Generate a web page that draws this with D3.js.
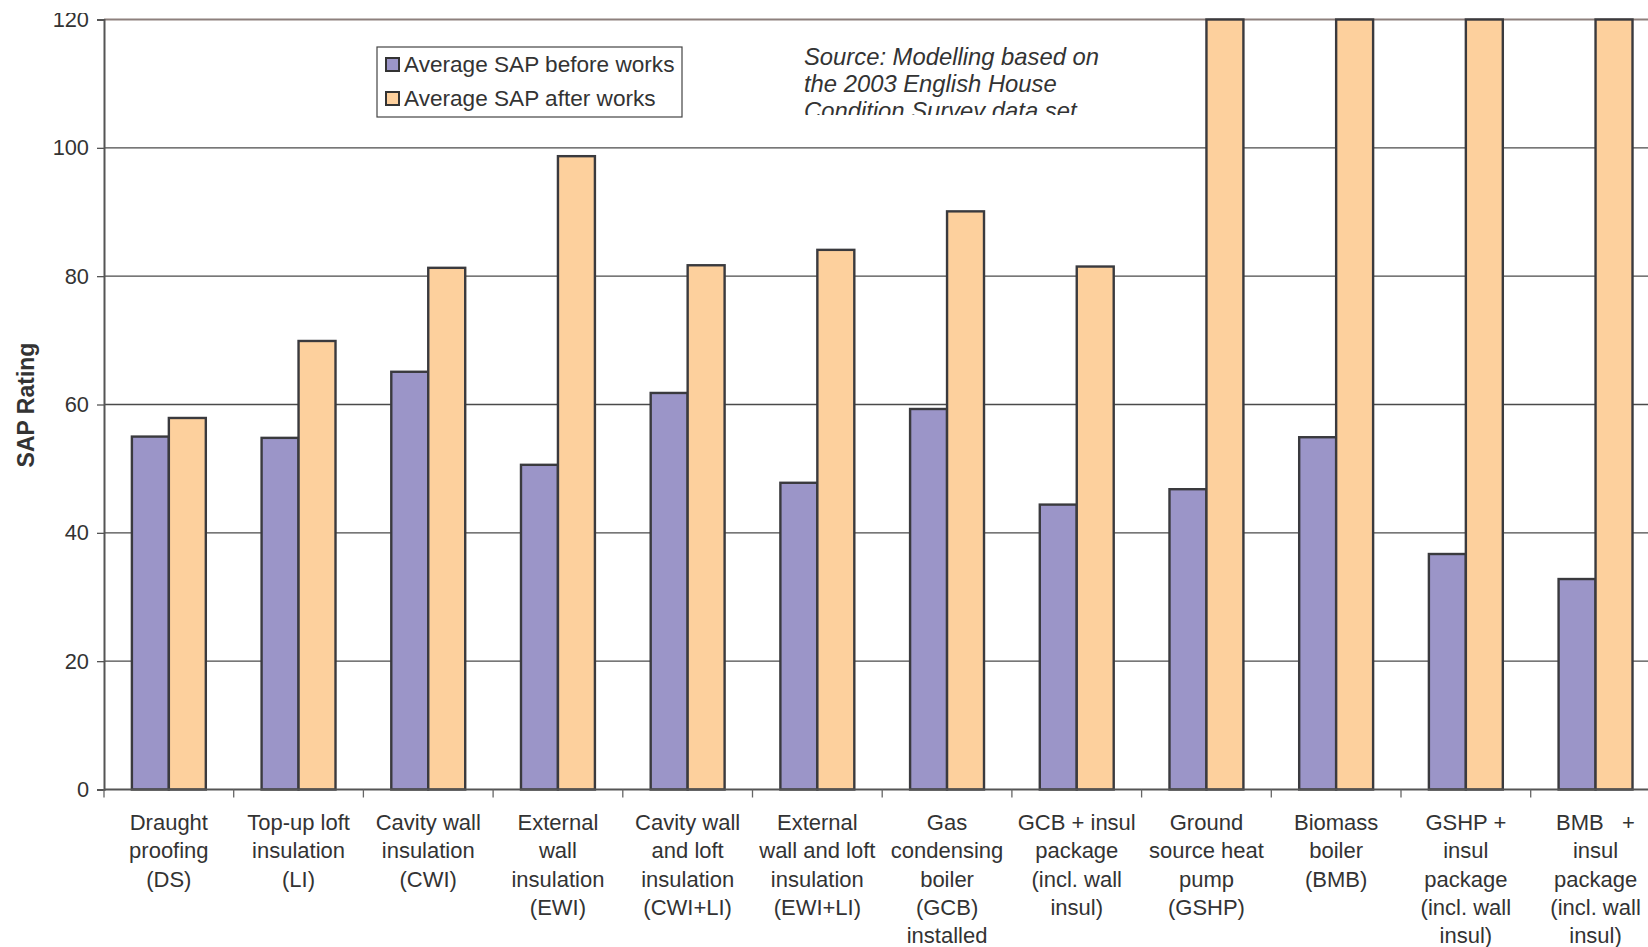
<!DOCTYPE html>
<html>
<head>
<meta charset="utf-8">
<script src="https://cdn.jsdelivr.net/npm/d3@7"></script>
<style>
  html, body { margin: 0; padding: 0; background: #fff; overflow: hidden; }
  svg { display: block; font-family: "Liberation Sans", Arial, sans-serif; }
</style>
</head>
<body>
<svg id="chart"></svg>
<script>
// category labels, one entry per line
const categories = [
    ["Draught", "proofing", "(DS)"],
    ["Top-up loft", "insulation", "(LI)"],
    ["Cavity wall", "insulation", "(CWI)"],
    ["External", "wall", "insulation", "(EWI)"],
    ["Cavity wall", "and loft", "insulation", "(CWI+LI)"],
    ["External", "wall and loft", "insulation", "(EWI+LI)"],
    ["Gas", "condensing", "boiler", "(GCB)", "installed"],
    ["GCB + insul", "package", "(incl. wall", "insul)"],
    ["Ground", "source heat", "pump", "(GSHP)"],
    ["Biomass", "boiler", "(BMB)"],
    ["GSHP +", "insul", "package", "(incl. wall", "insul)"],
    ["BMB   +", "insul", "package", "(incl. wall", "insul)"]
];

const seriesNames = ["Average SAP before works", "Average SAP after works"];
const sapBefore = [55.0, 54.8, 65.1, 50.6, 61.8, 47.8, 59.3, 44.4, 46.8, 54.9, 36.7, 32.8];
// last four run off the top of the axis in the original, read as 120
const sapAfter = [57.9, 69.9, 81.3, 98.7, 81.7, 84.1, 90.1, 81.5, 120, 120, 120, 120];
const yTicks = [0, 20, 40, 60, 80, 100, 120];

const W = 1648, H = 947;
const margin = { top: 19.5, left: 104, bottom: H - 789.5 };
const step = 129.7;

const svg = d3.select("#chart").attr("width", W).attr("height", H);

const ids = categories.map((d, i) => i);
const x0 = d3.scaleBand()
    .domain(ids)
    .range([margin.left, margin.left + step * ids.length])
    .paddingInner(0.43)
    .paddingOuter(0.215);

const x1 = d3.scaleBand()
    .domain([0, 1])
    .range([0, x0.bandwidth()]);

const y = d3.scaleLinear()
    .domain([0, 120])
    .range([789.5, margin.top])
    .clamp(true);

const colors = ["#9b95c8", "#fdd09d"];

// gridlines
svg.append("g")
    .selectAll("line")
    .data(yTicks.filter(t => t > 0 && t < 120))
    .join("line")
    .attr("x1", margin.left).attr("x2", W)
    .attr("y1", d => y(d)).attr("y2", d => y(d))
    .attr("stroke", "#4a4a4a")
    .attr("stroke-width", 1.3);

svg.append("line")
    .attr("x1", margin.left).attr("x2", W)
    .attr("y1", y(120)).attr("y2", y(120))
    .attr("stroke", "#8d807d")
    .attr("stroke-width", 2.2);

// bars
const rows = ids.map(i => [sapBefore[i], sapAfter[i]]);
svg.append("g")
    .selectAll("g")
    .data(rows)
    .join("g")
    .attr("transform", (d, i) => `translate(${x0(i)},0)`)
    .selectAll("rect")
    .data(d => d.map((v, k) => ({ v, k })))
    .join("rect")
    .attr("x", d => x1(d.k))
    .attr("width", x1.bandwidth())
    .attr("y", d => y(d.v))
    .attr("height", d => y(0) - y(d.v))
    .attr("fill", d => colors[d.k])
    .attr("stroke", "#3a3a3e")
    .attr("stroke-width", 2.4);

// y axis (top label is cut in the original)
svg.append("clipPath").attr("id", "yClip")
    .append("rect").attr("x", 0).attr("y", 13).attr("width", margin.left + 5).attr("height", H);
const yAxis = svg.append("g")
    .attr("clip-path", "url(#yClip)")
    .append("g")
    .attr("transform", `translate(${margin.left},0)`)
    .call(d3.axisLeft(y).tickValues(yTicks).tickSize(7).tickPadding(8));
yAxis.select(".domain").attr("stroke", "#555").attr("stroke-width", 2);
yAxis.selectAll(".tick line").attr("stroke", "#555").attr("stroke-width", 1.3);
yAxis.selectAll(".tick text")
    .attr("fill", "#333")
    .style("font-size", "21.8px");

// x axis line and ticks between categories
svg.append("line")
    .attr("x1", margin.left).attr("x2", W)
    .attr("y1", y(0)).attr("y2", y(0))
    .attr("stroke", "#555").attr("stroke-width", 2);

svg.append("g")
    .selectAll("line")
    .data(ids)
    .join("line")
    .attr("x1", d => x0(d) - x0.step() * x0.paddingInner() / 2)
    .attr("x2", d => x0(d) - x0.step() * x0.paddingInner() / 2)
    .attr("y1", y(0)).attr("y2", y(0) + 8)
    .attr("stroke", "#666").attr("stroke-width", 1.3);

// category labels
svg.append("g")
    .selectAll("text")
    .data(categories)
    .join("text")
    .attr("x", (d, i) => x0(i) + x0.bandwidth() / 2)
    .attr("y", 830)
    .attr("text-anchor", "middle")
    .attr("fill", "#333")
    .style("font-size", "22px")
    .selectAll("tspan")
    .data(d => d)
    .join("tspan")
    .attr("x", function() { return d3.select(this.parentNode).attr("x"); })
    .attr("dy", (d, i) => i === 0 ? 0 : 28.3)
    .style("white-space", "pre")
    .text(d => d);

// y axis title
svg.append("text")
    .attr("transform", `translate(34,405) rotate(-90)`)
    .attr("text-anchor", "middle")
    .attr("fill", "#333")
    .style("font-size", "23px")
    .style("font-weight", "bold")
    .text("SAP Rating");

// legend
const legend = svg.append("g").attr("transform", "translate(377,47)");
legend.append("rect")
    .attr("width", 305).attr("height", 70)
    .attr("fill", "#fff").attr("stroke", "#444").attr("stroke-width", 1.2);
const items = legend.selectAll("g")
    .data(seriesNames)
    .join("g")
    .attr("transform", (d, i) => `translate(9,${11 + i * 34})`);
items.append("rect")
    .attr("width", 13).attr("height", 13)
    .attr("fill", (d, i) => colors[i])
    .attr("stroke", "#333").attr("stroke-width", 2);
items.append("text")
    .attr("x", 18).attr("y", 14)
    .attr("fill", "#333")
    .style("font-size", "22.6px")
    .text(d => d);

// source note, bottom line cut off as in the original
svg.append("clipPath").attr("id", "srcClip")
    .append("rect").attr("x", 790).attr("y", 30).attr("width", 340).attr("height", 85);
svg.append("g")
    .attr("clip-path", "url(#srcClip)")
    .selectAll("text")
    .data(["Source: Modelling based on", "the 2003 English House", "Condition Survey data set"])
    .join("text")
    .attr("x", 804)
    .attr("y", (d, i) => 65 + i * 27)
    .attr("fill", "#333")
    .style("font-size", "23.8px")
    .style("font-style", "italic")
    .text(d => d);
</script>
</body>
</html>
